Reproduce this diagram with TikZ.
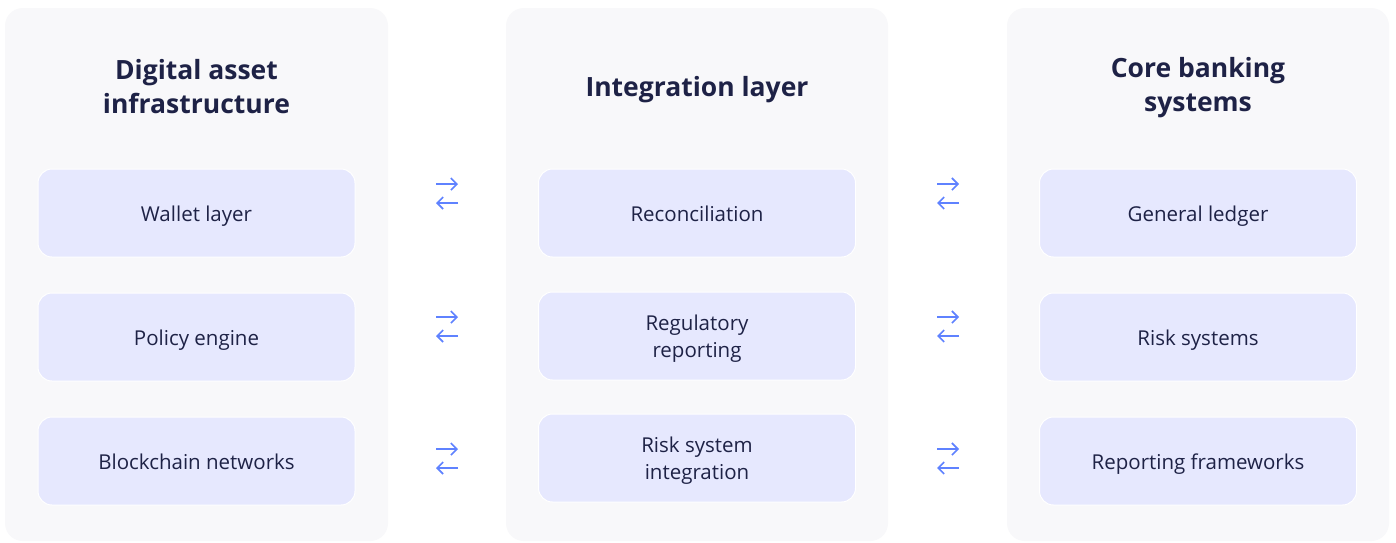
\documentclass[tikz,border=0pt]{standalone}
\usepackage{fontspec}
\setmainfont{Open Sans}
\usetikzlibrary{arrows.meta}
\definecolor{panelbg}{RGB}{248,248,250}
\definecolor{boxbg}{RGB}{230,232,254}
\definecolor{ink}{RGB}{30,34,70}
\definecolor{arr}{RGB}{95,130,255}
\tikzset{
  panel/.style={fill=panelbg, draw=none, rounded corners=18pt},
  cell/.style={fill=boxbg, draw=white, line width=1pt, rounded corners=14pt, minimum width=317pt, minimum height=88pt, inner sep=0pt},
  celltext/.style={align=center, text=ink, font=\fontsize{20.5}{27}\selectfont, inner sep=0pt, text depth=5pt},
  ttl/.style={align=center, text=ink, font=\fontsize{26.5}{34}\selectfont\bfseries},
  arrline/.style={draw=arr, line width=1.6pt, -{Straight Barb[length=6pt,width=12pt]}}
}
\begin{document}
\begin{tikzpicture}[x=1pt,y=-1pt]
\useasboundingbox (0,0) rectangle (1396,542);
\fill[white] (0,0) rectangle (1396,542);
% panels
\fill[panel] (5,8) rectangle (388,541);
\fill[panel] (506,8) rectangle (888,541);
\fill[panel] (1007,8) rectangle (1389,541);
% titles
\node[ttl] (t1) at (196.5,86.5) {Digital asset\\infrastructure};
\node[ttl] (t2) at (697,90) {Integration layer};
\node[ttl] (t3) at (1198,87.5) {Core banking\\systems};
% boxes
\node[cell] (a1) at (196.5,213) {};
\node[cell] (a2) at (196.5,337) {};
\node[cell] (a3) at (196.5,461) {};
\node[cell] (b1) at (697,213) {};
\node[cell] (b2) at (697,336) {};
\node[cell] (b3) at (697,458) {};
\node[cell] (c1) at (1198,213) {};
\node[cell] (c2) at (1198,337) {};
\node[cell] (c3) at (1198,461) {};
% box texts
\node[celltext] (a1t) at ([yshift=-3pt]a1.center) {Wallet layer};
\node[celltext] (a2t) at ([yshift=-3pt]a2.center) {Policy engine};
\node[celltext] (a3t) at ([yshift=-3pt]a3.center) {Blockchain networks};
\node[celltext] (b1t) at ([yshift=-3pt]b1.center) {Reconciliation};
\node[celltext] (b2t) at ([yshift=-3pt]b2.center) {Regulatory\\reporting};
\node[celltext] (b3t) at ([yshift=-3pt]b3.center) {Risk system\\integration};
\node[celltext] (c1t) at ([yshift=-3pt]c1.center) {General ledger};
\node[celltext] (c2t) at ([yshift=-3pt]c2.center) {Risk systems};
\node[celltext] (c3t) at ([yshift=-3pt]c3.center) {Reporting frameworks};
% arrow anchor coordinates
\foreach \i/\y in {1/194,2/327,3/459}{
  \coordinate (pL\i s) at (436,\y-10);
  \coordinate (pL\i e) at (458,\y-10);
  \coordinate (qL\i s) at (458,\y+9);
  \coordinate (qL\i e) at (436,\y+9);
  \coordinate (pR\i s) at (937,\y-10);
  \coordinate (pR\i e) at (959,\y-10);
  \coordinate (qR\i s) at (959,\y+9);
  \coordinate (qR\i e) at (937,\y+9);
  \draw[arrline] (pL\i s) -- (pL\i e);
  \draw[arrline] (qL\i s) -- (qL\i e);
  \draw[arrline] (pR\i s) -- (pR\i e);
  \draw[arrline] (qR\i s) -- (qR\i e);
}
\end{tikzpicture}
\end{document}
